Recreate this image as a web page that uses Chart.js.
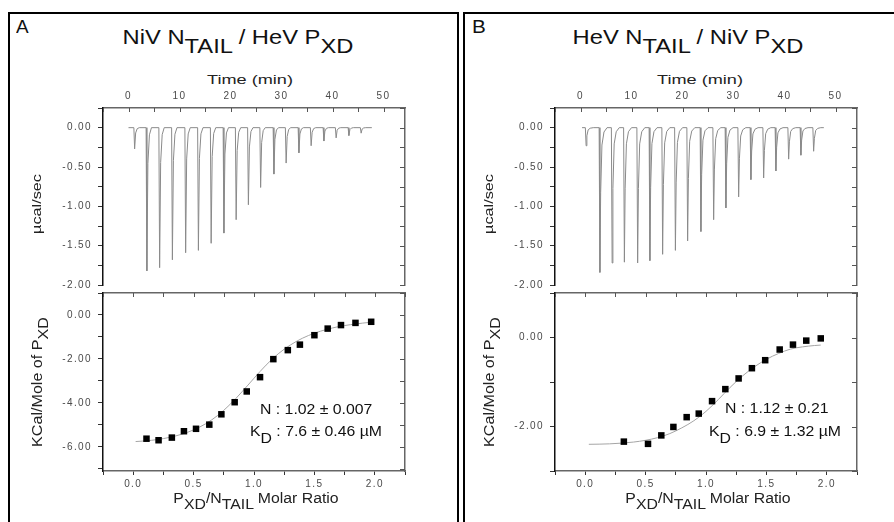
<!DOCTYPE html>
<html>
<head>
<meta charset="utf-8">
<script src="https://cdn.jsdelivr.net/npm/chart.js@4.4.1/dist/chart.umd.min.js"></script>
<style>
body { margin: 0; width: 894px; height: 522px; overflow: hidden; background: #fff; position: relative;
       font-family: 'Liberation Sans', Arial, sans-serif; color: #111; }
.panel { position: absolute; border: 2px solid #000; box-sizing: border-box; }
canvas { position: absolute; }
.t { position: absolute; line-height: 0; white-space: nowrap; }
.rot { position: absolute; white-space: nowrap; line-height: 1.2; }
.sb { position: relative; top: 0.43em; }
.ax { color: #222; }
</style>
</head>
<body>
<div class="panel" style="left:8px;top:12px;width:451px;height:600px"></div>
<div class="panel" style="left:463px;top:12px;width:600px;height:600px"></div>

<canvas id="topA" width="380" height="209" style="left:40px;top:88px"></canvas>
<canvas id="botA" width="380" height="214" style="left:40px;top:281px"></canvas>
<canvas id="topB" width="380" height="209" style="left:492px;top:88px"></canvas>
<canvas id="botB" width="380" height="214" style="left:492px;top:281px"></canvas>

<script>
// --- ITC raw data: injection times (min) and peak heights (µcal/sec)
const injTimeA = [1.1, 3.5, 6.0, 8.5, 11.1, 13.6, 16.1, 18.6, 21.0, 23.4, 25.8, 28.4, 30.8, 33.3, 35.7, 38.2, 40.6, 43.1, 45.5];
const peakA    = [-0.27, -1.82, -1.78, -1.68, -1.59, -1.56, -1.47, -1.34, -1.17, -0.98, -0.76, -0.59, -0.45, -0.32, -0.23, -0.17, -0.13, -0.10, -0.07];
const injTimeB = [1.0, 3.7, 6.1, 8.5, 11.1, 13.5, 16.0, 18.5, 20.9, 23.5, 26.0, 28.4, 30.9, 33.3, 35.8, 38.2, 40.7, 43.1, 45.6];
const peakB    = [-0.23, -1.84, -1.72, -1.71, -1.72, -1.69, -1.61, -1.56, -1.44, -1.32, -1.17, -1.02, -0.88, -0.66, -0.64, -0.55, -0.40, -0.35, -0.30];
// shape of one injection peak: [minutes after injection, fraction of peak]
const spikeShapeA = [[-0.05, 0], [0.1, 1], [0.3, 0.25], [0.6, 0.05], [1.0, 0]];
const spikeShapeB = [[-0.05, 0], [0.1, 1], [0.25, 0.45], [0.5, 0.12], [0.9, 0.03], [1.5, 0]];
const traceStartA = 0, traceEndA = 47.7;
const traceStartB = 0.3, traceEndB = 47.7;

// --- integrated heats (kcal/mol of injectant) vs molar ratio
const ratioA = [0.11, 0.21, 0.32, 0.42, 0.52, 0.63, 0.73, 0.84, 0.94, 1.05, 1.16, 1.28, 1.38, 1.50, 1.61, 1.72, 1.84, 1.97];
const heatA  = [-5.63, -5.70, -5.58, -5.29, -5.18, -4.99, -4.52, -3.97, -3.48, -2.83, -2.01, -1.60, -1.35, -0.92, -0.62, -0.46, -0.36, -0.31];
const fitRatioA = [0.02, 0.1, 0.2, 0.3, 0.4, 0.5, 0.6, 0.7, 0.8, 0.9, 1.0, 1.1, 1.2, 1.3, 1.4, 1.5, 1.6, 1.7, 1.8, 1.9, 1.97];
const fitHeatA  = [-5.76, -5.73, -5.67, -5.57, -5.43, -5.23, -4.95, -4.57, -4.08, -3.50, -2.88, -2.28, -1.77, -1.37, -1.06, -0.83, -0.66, -0.53, -0.44, -0.37, -0.33];

const ratioB = [0.32, 0.52, 0.63, 0.73, 0.84, 0.94, 1.05, 1.16, 1.27, 1.38, 1.49, 1.61, 1.72, 1.83, 1.95];
const heatB  = [-2.34, -2.39, -2.20, -2.01, -1.79, -1.71, -1.43, -1.16, -0.92, -0.69, -0.51, -0.27, -0.16, -0.07, -0.02];
const fitRatioB = [0.03, 0.2, 0.4, 0.5, 0.6, 0.7, 0.8, 0.9, 1.0, 1.1, 1.2, 1.3, 1.4, 1.5, 1.6, 1.7, 1.8, 1.9, 1.95];
const fitHeatB  = [-2.40, -2.39, -2.35, -2.31, -2.25, -2.16, -2.03, -1.87, -1.66, -1.40, -1.12, -0.87, -0.66, -0.49, -0.36, -0.26, -0.21, -0.18, -0.17];

// --- axis ranges and tick positions
const timeMin = -5, timeMax = 54.2;
const timeTicks = [-5, 0, 5, 10, 15, 20, 25, 30, 35, 40, 45, 50];
const powerMin = -2, powerMax = 0.25;
const powerTicks = [-2, -1.75, -1.5, -1.25, -1, -0.75, -0.5, -0.25, 0, 0.25];
const ratioMin = -0.25, ratioMax = 2.25;
const ratioTicks = [-0.25, 0, 0.25, 0.5, 0.75, 1, 1.25, 1.5, 1.75, 2, 2.25];
const heatRangeA = [-7.1, 1];
const heatTicksA = [-7, -6, -5, -4, -3, -2, -1, 0, 1];
const heatRangeB = [-3, 1];
const heatTicksB = [-3, -2, -1, 0, 1];

const tickFont = { family: "'Liberation Sans', Arial, sans-serif", size: 10 };
const tickColor = '#4a4a4a';
const every = (v, step) => Math.abs(v / step - Math.round(v / step)) < 1e-6;
const setTicks = list => s => { s.ticks = list.map(v => ({ value: v })); };

// ticks pointing into the plot on the top / right frame, plus wide tick text
const frameTicks = {
    id: 'frameTicks',
    beforeDraw(chart) { chart.ctx.letterSpacing = '1.4px'; },
    afterDraw(chart) {
        const ctx = chart.ctx, a = chart.chartArea;
        ctx.save();
        ctx.strokeStyle = '#555';
        ctx.lineWidth = 1;
        Object.values(chart.scales).forEach(s => {
            const len = s.options.innerTicks;
            if (!len) return;
            s.ticks.forEach(t => {
                const p = Math.round(s.getPixelForValue(t.value)) + 0.5;
                ctx.beginPath();
                if (s.position === 'top') {
                    ctx.moveTo(p, a.top); ctx.lineTo(p, a.top + len);
                } else {
                    ctx.moveTo(a.right, p); ctx.lineTo(a.right - len, p);
                }
                ctx.stroke();
            });
        });
        ctx.restore();
    }
};

function leftAxis(min, max, ticks, labelEvery, digits) {
    return {
        type: 'linear', position: 'left', min, max,
        afterFit: s => { s.width = 63; },
        afterBuildTicks: setTicks(ticks),
        ticks: { padding: 6, color: tickColor, font: tickFont,
                 callback: v => every(v, labelEvery) ? v.toFixed(digits) : '' },
        grid: { drawOnChartArea: false, drawTicks: true, tickLength: 5, tickColor: '#333' },
        border: { color: '#111', width: 1.5 }
    };
}

function rightAxis(min, max, ticks) {
    return {
        type: 'linear', position: 'right', min, max,
        afterFit: s => { s.width = 15; },
        afterBuildTicks: setTicks(ticks),
        ticks: { display: false },
        grid: { drawOnChartArea: false, drawTicks: false },
        border: { color: '#666', width: 1.5 },
        innerTicks: 5
    };
}

const baseOptions = {
    responsive: false,
    animation: false,
    events: [],
    plugins: { legend: { display: false }, tooltip: { enabled: false } }
};

function thermogram(id, times, peaks, shape, tStart, tEnd) {
    const pts = [{ x: tStart, y: 0 }];
    times.forEach((t, i) => shape.forEach(([dt, f]) => pts.push({ x: t + dt, y: peaks[i] * f })));
    pts.push({ x: tEnd, y: 0 });

    new Chart(document.getElementById(id), {
        type: 'scatter',
        data: {
            datasets: [{
                data: pts, showLine: true, borderColor: '#8a8a8a', borderWidth: 1,
                pointRadius: 0, xAxisID: 'xt', yAxisID: 'y'
            }]
        },
        options: {
            ...baseOptions,
            layout: { padding: { bottom: 8 } },
            scales: {
                xt: {
                    type: 'linear', position: 'top', min: timeMin, max: timeMax,
                    afterFit: s => { s.height = 20; },
                    afterBuildTicks: setTicks(timeTicks),
                    ticks: { autoSkip: false, maxRotation: 0, padding: 6, color: tickColor, font: tickFont,
                             callback: v => every(v, 10) ? String(v) : '' },
                    grid: { drawOnChartArea: false, drawTicks: false },
                    border: { color: '#666', width: 1.5 },
                    innerTicks: 4
                },
                y: leftAxis(powerMin, powerMax, powerTicks, 0.5, 2),
                yr: rightAxis(powerMin, powerMax, powerTicks)
            }
        },
        plugins: [frameTicks]
    });
}

function isotherm(id, ratio, heat, fitRatio, fitHeat, range, heatTicks) {
    new Chart(document.getElementById(id), {
        type: 'scatter',
        data: {
            datasets: [{
                data: ratio.map((x, i) => ({ x, y: heat[i] })),
                pointStyle: 'rect', pointRadius: 4.6, pointBackgroundColor: '#000', pointBorderWidth: 0,
                xAxisID: 'x', yAxisID: 'y'
            }, {
                data: fitRatio.map((x, i) => ({ x, y: fitHeat[i] })),
                showLine: true, pointRadius: 0, borderColor: '#a5a5a5', borderWidth: 1,
                cubicInterpolationMode: 'monotone', xAxisID: 'x', yAxisID: 'y'
            }]
        },
        options: {
            ...baseOptions,
            layout: { padding: { top: 7 } },
            scales: {
                x: {
                    type: 'linear', position: 'bottom', min: ratioMin, max: ratioMax,
                    afterFit: s => { s.height = 24; },
                    afterBuildTicks: setTicks(ratioTicks),
                    ticks: { autoSkip: false, maxRotation: 0, padding: 3, color: tickColor, font: tickFont,
                             callback: v => every(v, 0.5) ? v.toFixed(1) : '' },
                    grid: { drawOnChartArea: false, tickLength: 4, tickColor: '#333' },
                    border: { color: '#666', width: 1.5 }
                },
                xt2: {
                    type: 'linear', position: 'top', min: ratioMin, max: ratioMax,
                    afterFit: s => { s.height = 1; },
                    afterBuildTicks: setTicks(ratioTicks),
                    ticks: { display: false },
                    grid: { drawOnChartArea: false, drawTicks: false },
                    border: { color: '#666', width: 1.5 },
                    innerTicks: 4
                },
                y: leftAxis(range[0], range[1], heatTicks, 2, 2),
                yr: rightAxis(range[0], range[1], heatTicks)
            }
        },
        plugins: [frameTicks]
    });
}

thermogram('topA', injTimeA, peakA, spikeShapeA, traceStartA, traceEndA);
thermogram('topB', injTimeB, peakB, spikeShapeB, traceStartB, traceEndB);
isotherm('botA', ratioA, heatA, fitRatioA, fitHeatA, heatRangeA, heatTicksA);
isotherm('botB', ratioB, heatB, fitRatioB, fitHeatB, heatRangeB, heatTicksB);

// --- text: titles, axis titles with subscripts, fit results
function addText(html, x, base, size, center, sx, cls) {
    const d = document.createElement('div');
    d.className = 't' + (cls ? ' ' + cls : '');
    d.innerHTML = html;
    d.style.fontSize = size + 'px';
    d.style.left = x + 'px';
    d.style.top = (base - 0.3465 * size) + 'px';
    if (center) {
        d.style.transform = 'translateX(-50%) scaleX(' + sx + ')';
    } else {
        d.style.transformOrigin = '0 0';
        d.style.transform = 'scaleX(' + sx + ')';
    }
    document.body.appendChild(d);
}

function addRotated(html, cx, cy, size, sx) {
    const d = document.createElement('div');
    d.className = 'rot ax';
    d.innerHTML = html;
    d.style.fontSize = size + 'px';
    d.style.left = cx + 'px';
    d.style.top = cy + 'px';
    d.style.transform = 'translate(-50%,-50%) rotate(-90deg) scaleX(' + sx + ')';
    document.body.appendChild(d);
}

const dx = 452;
addText('A', 16, 33, 18, false, 1.05);
addText('B', 472, 33, 18, false, 1.15);
addText('NiV N<span class="sb">TAIL</span> / HeV P<span class="sb">XD</span>', 238, 44, 21, true, 1.13);
addText('HeV N<span class="sb">TAIL</span> / NiV P<span class="sb">XD</span>', 688, 44, 21, true, 1.13);

[0, dx].forEach(o => {
    addText('Time (min)', 250 + o - (o ? 2 : 0), 84, 12.5, true, 1.45, 'ax');
    addRotated('µcal/sec', 37 + o, 204, 13, 1.25);
    addRotated('KCal/Mole of P<span class="sb">XD</span>', 36.5 + o, 382, 14, 1.15);
    addText('P<span class="sb">XD</span>/N<span class="sb">TAIL</span> Molar Ratio', 256 + o, 503, 14, true, 1.13, 'ax');
});

addText('N : 1.02 ± 0.007', 260, 414.5, 14.5, false, 1.09);
addText('K<span class="sb">D</span> : 7.6 ± 0.46 µM', 250, 436.5, 14.5, false, 1.09);
addText('N : 1.12 ± 0.21', 725, 413.5, 14.5, false, 1.09);
addText('K<span class="sb">D</span> : 6.9 ± 1.32 µM', 709, 436.5, 14.5, false, 1.09);
</script>
</body>
</html>
